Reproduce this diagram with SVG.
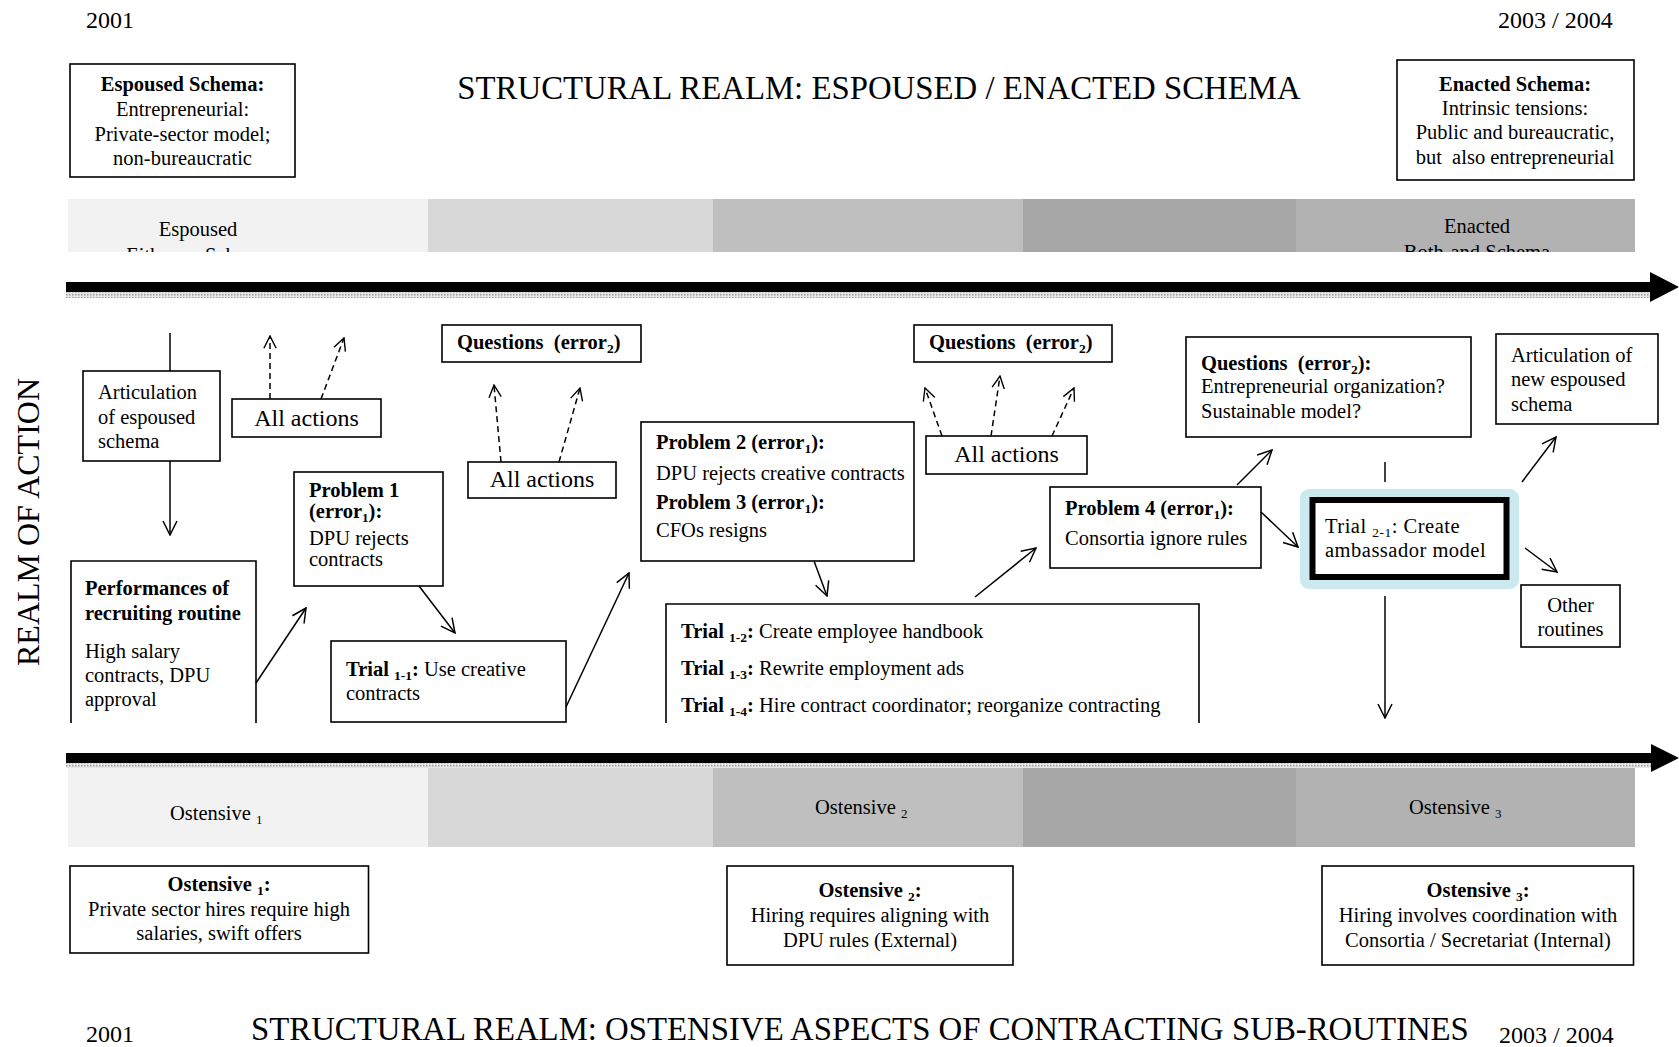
<svg xmlns="http://www.w3.org/2000/svg" width="1679" height="1047" viewBox="0 0 1679 1047">
<style>
.t{font-family:"Liberation Serif","Times New Roman",serif;font-size:20.5px;fill:#000}
.b{font-weight:bold}
.big{font-size:24px}
.ttl{font-size:32.8px}
.box{fill:#fff;stroke:#000;stroke-width:1.6}
.open{fill:none;stroke:#000;stroke-width:1.6}
.c{fill:none;stroke:#000;stroke-width:1.5}
.d{fill:none;stroke:#000;stroke-width:1.5;stroke-dasharray:6 4}
</style>
<defs>
<marker id="ah" viewBox="0 0 16 16" refX="15" refY="8" markerWidth="16" markerHeight="16" markerUnits="userSpaceOnUse" orient="auto">
<path d="M1,1 L15,8 L1,15" fill="none" stroke="#000" stroke-width="1.5"/>
</marker>
<marker id="ahd" viewBox="0 0 16 16" refX="15" refY="8" markerWidth="14" markerHeight="14" markerUnits="userSpaceOnUse" orient="auto">
<path d="M1,1 L15,8 L1,15" fill="none" stroke="#000" stroke-width="1.6"/>
</marker>
<pattern id="dots" width="3" height="3" patternUnits="userSpaceOnUse">
<rect width="3" height="3" fill="#e6e6e6"/>
<rect width="1.5" height="1.5" fill="#9a9a9a"/>
</pattern>
<clipPath id="topclip"><rect x="68" y="199" width="1567" height="53"/></clipPath>
</defs>
<rect width="1679" height="1047" fill="#fff"/>

<!-- years and titles -->
<text class="t big" x="86" y="28">2001</text>
<text class="t big" x="1498" y="28">2003 / 2004</text>
<text class="t ttl" x="879" y="99" text-anchor="middle">STRUCTURAL REALM: ESPOUSED / ENACTED SCHEMA</text>
<text class="t big" x="86" y="1042">2001</text>
<text class="t ttl" x="251" y="1040">STRUCTURAL REALM: OSTENSIVE ASPECTS OF CONTRACTING SUB-ROUTINES</text>
<text class="t big" x="1499" y="1043">2003 / 2004</text>
<text class="t" style="font-size:32px" transform="translate(39,522) rotate(-90)" text-anchor="middle">REALM OF ACTION</text>

<!-- top band -->
<g id="top-band">
<rect x="68" y="199" width="361" height="53" fill="#f2f2f2"/>
<rect x="428" y="199" width="286" height="53" fill="#d8d8d8"/>
<rect x="713" y="199" width="311" height="53" fill="#bfbfbf"/>
<rect x="1023" y="199" width="274" height="53" fill="#a6a6a6"/>
<rect x="1296" y="199" width="339" height="53" fill="#b2b2b2"/>
<g clip-path="url(#topclip)">
<text class="t" x="198" y="236" text-anchor="middle">Espoused</text>
<text class="t" x="198" y="262" text-anchor="middle">Either-or Schema</text>
<text class="t" x="1477" y="233" text-anchor="middle">Enacted</text>
<text class="t" x="1477" y="259" text-anchor="middle">Both-and Schema</text>
</g>
</g>

<!-- bottom band -->
<g id="bottom-band">
<rect x="68" y="768" width="361" height="79" fill="#f2f2f2"/>
<rect x="428" y="768" width="286" height="79" fill="#d8d8d8"/>
<rect x="713" y="768" width="311" height="79" fill="#bfbfbf"/>
<rect x="1023" y="768" width="274" height="79" fill="#a6a6a6"/>
<rect x="1296" y="768" width="339" height="79" fill="#b2b2b2"/>
<text class="t" x="170" y="820">Ostensive <tspan font-size="13" dy="4">1</tspan></text>
<text class="t" x="815" y="814">Ostensive <tspan font-size="13" dy="4">2</tspan></text>
<text class="t" x="1409" y="814">Ostensive <tspan font-size="13" dy="4">3</tspan></text>
</g>

<!-- timeline arrows -->
<g id="timeline-top">
<rect x="66" y="292" width="1586" height="6" fill="url(#dots)"/>
<rect x="66" y="282" width="1588" height="10" fill="#000"/>
<path d="M1650,272 L1679,287 L1650,302 Z" fill="#000"/>
</g>
<g id="timeline-bottom">
<rect x="66" y="763" width="1586" height="5" fill="url(#dots)"/>
<rect x="66" y="753" width="1588" height="10" fill="#000"/>
<path d="M1651,744 L1679,758 L1651,772 Z" fill="#000"/>
</g>

<!-- schema boxes -->
<g id="espoused-schema">
<rect class="box" x="70" y="64" width="225" height="113"/>
<text class="t b" x="182.5" y="91" text-anchor="middle">Espoused Schema:</text>
<text class="t" x="182.5" y="116" text-anchor="middle">Entrepreneurial:</text>
<text class="t" x="182.5" y="141" text-anchor="middle">Private-sector model;</text>
<text class="t" x="182.5" y="165" text-anchor="middle">non-bureaucratic</text>
</g>
<g id="enacted-schema">
<rect class="box" x="1397" y="60" width="237" height="120"/>
<text class="t b" x="1515" y="91" text-anchor="middle">Enacted Schema:</text>
<text class="t" x="1515" y="115" text-anchor="middle">Intrinsic tensions:</text>
<text class="t" x="1515" y="139" text-anchor="middle">Public and bureaucratic,</text>
<text class="t" x="1515" y="164" text-anchor="middle">but&#160; also entrepreneurial</text>
</g>

<!-- action nodes -->
<g id="articulation">
<rect class="box" x="83" y="371" width="137" height="90"/>
<text class="t" x="98" y="399">Articulation</text>
<text class="t" x="98" y="424">of espoused</text>
<text class="t" x="98" y="448">schema</text>
</g>
<g id="all-actions-1">
<rect class="box" x="232" y="399" width="149" height="38"/>
<text class="t big" x="306.5" y="426" text-anchor="middle">All actions</text>
</g>
<g id="performances">
<path class="open" d="M71,723 V561 H256 V723"/>
<text class="t b" x="85" y="595">Performances of</text>
<text class="t b" x="85" y="620">recruiting routine</text>
<text class="t" x="85" y="658">High salary</text>
<text class="t" x="85" y="682">contracts, DPU</text>
<text class="t" x="85" y="706">approval</text>
</g>
<g id="problem-1">
<rect class="box" x="294" y="472" width="149" height="114"/>
<text class="t b" x="309" y="497">Problem 1</text>
<text class="t b" x="309" y="518">(error<tspan font-size="13" dy="4">1</tspan><tspan dy="-4">):</tspan></text>
<text class="t" x="309" y="545">DPU rejects</text>
<text class="t" x="309" y="566">contracts</text>
</g>
<g id="trial-1-1">
<rect class="box" x="331" y="641" width="235" height="81"/>
<text class="t" x="346" y="676"><tspan class="b">Trial </tspan><tspan class="b" font-size="13.5" dy="4">1-1</tspan><tspan class="b" dy="-4">:</tspan> Use creative</text>
<text class="t" x="346" y="700">contracts</text>
</g>
<g id="questions-1">
<rect class="box" x="442" y="325" width="199" height="37"/>
<text class="t b" x="457" y="349">Questions&#160; (error<tspan font-size="13.5" dy="4">2</tspan><tspan dy="-4">)</tspan></text>
</g>
<g id="all-actions-2">
<rect class="box" x="468" y="462" width="148" height="36"/>
<text class="t big" x="542" y="487" text-anchor="middle">All actions</text>
</g>
<g id="problem-2-3">
<rect class="box" x="641" y="422" width="273" height="139"/>
<text class="t b" x="656" y="449">Problem 2 (error<tspan font-size="13.5" dy="4">1</tspan><tspan dy="-4">):</tspan></text>
<text class="t" x="656" y="480">DPU rejects creative contracts</text>
<text class="t b" x="656" y="509">Problem 3 (error<tspan font-size="13.5" dy="4">1</tspan><tspan dy="-4">):</tspan></text>
<text class="t" x="656" y="537">CFOs resigns</text>
</g>
<g id="trials-1-2-4">
<path class="open" d="M666,723 V604 H1199 V723"/>
<text class="t" x="681" y="638"><tspan class="b">Trial </tspan><tspan class="b" font-size="13.5" dy="4">1-2</tspan><tspan class="b" dy="-4">:</tspan> Create employee handbook</text>
<text class="t" x="681" y="675"><tspan class="b">Trial </tspan><tspan class="b" font-size="13.5" dy="4">1-3</tspan><tspan class="b" dy="-4">:</tspan> Rewrite employment ads</text>
<text class="t" x="681" y="712"><tspan class="b">Trial </tspan><tspan class="b" font-size="13.5" dy="4">1-4</tspan><tspan class="b" dy="-4">:</tspan> Hire contract coordinator; reorganize contracting</text>
</g>
<g id="questions-2">
<rect class="box" x="914" y="325" width="198" height="37"/>
<text class="t b" x="929" y="349">Questions&#160; (error<tspan font-size="13.5" dy="4">2</tspan><tspan dy="-4">)</tspan></text>
</g>
<g id="all-actions-3">
<rect class="box" x="926" y="436" width="161" height="38"/>
<text class="t big" x="1006.5" y="462" text-anchor="middle">All actions</text>
</g>
<g id="problem-4">
<rect class="box" x="1050" y="487" width="211" height="81"/>
<text class="t b" x="1065" y="515">Problem 4 (error<tspan font-size="13.5" dy="4">1</tspan><tspan dy="-4">):</tspan></text>
<text class="t" x="1065" y="545">Consortia ignore rules</text>
</g>
<g id="questions-3">
<rect class="box" x="1186" y="337" width="285" height="100"/>
<text class="t b" x="1201" y="370">Questions&#160; (error<tspan font-size="13.5" dy="4">2</tspan><tspan dy="-4">):</tspan></text>
<text class="t" x="1201" y="393">Entrepreneurial organization?</text>
<text class="t" x="1201" y="418">Sustainable model?</text>
</g>
<g id="articulation-new">
<rect class="box" x="1496" y="334" width="162" height="90"/>
<text class="t" x="1511" y="362">Articulation of</text>
<text class="t" x="1511" y="386">new espoused</text>
<text class="t" x="1511" y="411">schema</text>
</g>
<g id="trial-2-1">
<rect x="1300" y="489" width="219" height="100" rx="9" fill="#cbeaf0"/>
<rect x="1312.5" y="500" width="194" height="77" fill="#fff" stroke="#000" stroke-width="6"/>
<text class="t" x="1325" y="533" letter-spacing="0.5">Trial <tspan font-size="13.5" dy="4">2-1</tspan><tspan dy="-4">: Create</tspan></text>
<text class="t" x="1325" y="557" letter-spacing="0.5">ambassador model</text>
</g>
<g id="other-routines">
<rect class="box" x="1521" y="585" width="99" height="62"/>
<text class="t" x="1570.5" y="612" text-anchor="middle">Other</text>
<text class="t" x="1570.5" y="636" text-anchor="middle">routines</text>
</g>

<!-- ostensive boxes -->
<g id="ostensive-1">
<rect class="box" x="70" y="866" width="298.5" height="87"/>
<text class="t" x="219" y="891" text-anchor="middle"><tspan class="b">Ostensive </tspan><tspan class="b" font-size="13.5" dy="4">1</tspan><tspan class="b" dy="-4">:</tspan></text>
<text class="t" x="219" y="916" text-anchor="middle">Private sector hires require high</text>
<text class="t" x="219" y="940" text-anchor="middle">salaries, swift offers</text>
</g>
<g id="ostensive-2">
<rect class="box" x="727" y="866" width="286" height="99"/>
<text class="t" x="870" y="897" text-anchor="middle"><tspan class="b">Ostensive </tspan><tspan class="b" font-size="13.5" dy="4">2</tspan><tspan class="b" dy="-4">:</tspan></text>
<text class="t" x="870" y="922" text-anchor="middle">Hiring requires aligning with</text>
<text class="t" x="870" y="947" text-anchor="middle">DPU rules (External)</text>
</g>
<g id="ostensive-3">
<rect class="box" x="1322" y="866" width="311.5" height="99"/>
<text class="t" x="1478" y="897" text-anchor="middle"><tspan class="b">Ostensive </tspan><tspan class="b" font-size="13.5" dy="4">3</tspan><tspan class="b" dy="-4">:</tspan></text>
<text class="t" x="1478" y="922" text-anchor="middle">Hiring involves coordination with</text>
<text class="t" x="1478" y="947" text-anchor="middle">Consortia / Secretariat (Internal)</text>
</g>

<!-- connectors -->
<g id="connectors">
<line class="c" x1="170" y1="333" x2="170" y2="371"/>
<line class="c" x1="170" y1="461" x2="170" y2="535" marker-end="url(#ah)"/>
<line class="c" x1="256" y1="683" x2="306" y2="608" marker-end="url(#ah)"/>
<line class="c" x1="419" y1="586" x2="455" y2="633" marker-end="url(#ah)"/>
<line class="c" x1="566" y1="707" x2="629" y2="573" marker-end="url(#ah)"/>
<line class="c" x1="814" y1="561" x2="827" y2="596" marker-end="url(#ah)"/>
<line class="c" x1="975" y1="597" x2="1036" y2="548" marker-end="url(#ah)"/>
<line class="c" x1="1237" y1="485" x2="1272" y2="450" marker-end="url(#ah)"/>
<line class="c" x1="1261" y1="512" x2="1298" y2="547" marker-end="url(#ah)"/>
<line class="c" x1="1385" y1="462" x2="1385" y2="482"/>
<line class="c" x1="1522" y1="482" x2="1556" y2="437" marker-end="url(#ah)"/>
<line class="c" x1="1525" y1="548" x2="1557" y2="572" marker-end="url(#ah)"/>
<line class="c" x1="1385" y1="596" x2="1385" y2="718" marker-end="url(#ah)"/>
<line class="d" x1="270" y1="399" x2="270" y2="336" marker-end="url(#ahd)"/>
<line class="d" x1="321" y1="399" x2="344" y2="338" marker-end="url(#ahd)"/>
<line class="d" x1="501" y1="462" x2="494" y2="385" marker-end="url(#ahd)"/>
<line class="d" x1="559" y1="462" x2="580" y2="388" marker-end="url(#ahd)"/>
<line class="d" x1="942" y1="436" x2="925" y2="388" marker-end="url(#ahd)"/>
<line class="d" x1="991" y1="436" x2="1000" y2="376" marker-end="url(#ahd)"/>
<line class="d" x1="1052" y1="436" x2="1074" y2="388" marker-end="url(#ahd)"/>
</g>
</svg>
